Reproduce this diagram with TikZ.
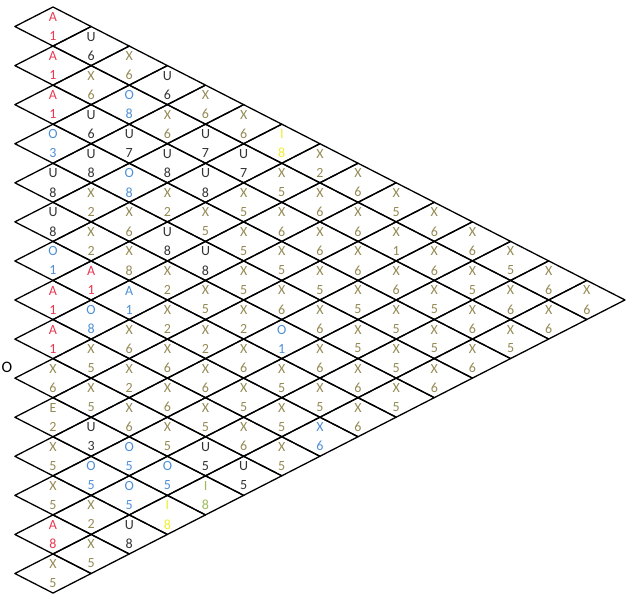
\documentclass[tikz,border=0pt]{standalone}
\usepackage{fontspec}
\setmainfont{Carlito}
\definecolor{cr}{HTML}{E8384F}
\definecolor{cb}{HTML}{4F8FD6}
\definecolor{ck}{HTML}{333333}
\definecolor{co}{HTML}{948A54}
\definecolor{cg}{HTML}{9BBB59}
\definecolor{cy}{HTML}{EEEE30}
\begin{document}
\begin{tikzpicture}[x=1pt,y=-1pt,
  lab/.style={font=\fontsize{14}{14}\selectfont, inner sep=0pt},
  cell/.style={draw=black, line width=1.3pt, line join=round}]
\useasboundingbox (0,0) rectangle (626,597);
\foreach \k/\j/\u/\l/\c in {
 0/0/A/1/r, 0/1/A/1/r, 0/2/A/1/r, 0/3/O/3/b, 0/4/U/8/k, 0/5/U/8/k, 0/6/O/1/b, 0/7/A/1/r, 0/8/A/1/r, 0/9/X/6/o, 0/10/E/2/o, 0/11/X/5/o, 0/12/X/5/o, 0/13/A/8/r, 0/14/X/5/o,
 1/0/U/6/k, 1/1/X/6/o, 1/2/U/6/k, 1/3/U/8/k, 1/4/X/2/o, 1/5/X/2/o, 1/6/A/1/r, 1/7/O/8/b, 1/8/X/5/o, 1/9/X/5/o, 1/10/U/3/k, 1/11/O/5/b, 1/12/X/2/o, 1/13/X/5/o,
 2/0/X/6/o, 2/1/O/8/b, 2/2/U/7/k, 2/3/O/8/b, 2/4/X/6/o, 2/5/X/8/o, 2/6/A/1/b, 2/7/X/6/o, 2/8/X/2/o, 2/9/X/6/o, 2/10/O/5/b, 2/11/O/5/b, 2/12/U/8/k,
 3/0/U/6/k, 3/1/X/6/o, 3/2/U/8/k, 3/3/X/2/o, 3/4/U/8/k, 3/5/X/2/o, 3/6/X/2/o, 3/7/X/6/o, 3/8/X/6/o, 3/9/X/5/o, 3/10/O/5/b, 3/11/I/8/y,
 4/0/X/6/o, 4/1/U/7/k, 4/2/U/8/k, 4/3/X/5/o, 4/4/U/8/k, 4/5/X/5/o, 4/6/X/2/o, 4/7/X/6/o, 4/8/X/5/o, 4/9/U/5/k, 4/10/I/8/g,
 5/0/X/6/o, 5/1/U/7/k, 5/2/X/5/o, 5/3/X/5/o, 5/4/X/5/o, 5/5/X/2/o, 5/6/X/6/o, 5/7/X/5/o, 5/8/X/6/o, 5/9/U/5/k,
 6/0/I/8/y, 6/1/X/5/o, 6/2/X/6/o, 6/3/X/5/o, 6/4/X/6/o, 6/5/O/1/b, 6/6/X/5/o, 6/7/X/5/o, 6/8/X/5/o,
 7/0/X/2/o, 7/1/X/6/o, 7/2/X/6/o, 7/3/X/5/o, 7/4/X/6/o, 7/5/X/6/o, 7/6/X/5/o, 7/7/X/6/b,
 8/0/X/6/o, 8/1/X/6/o, 8/2/X/6/o, 8/3/X/5/o, 8/4/X/5/o, 8/5/X/6/o, 8/6/X/6/o,
 9/0/X/5/o, 9/1/X/1/o, 9/2/X/6/o, 9/3/X/5/o, 9/4/X/5/o, 9/5/X/5/o,
 10/0/X/6/o, 10/1/X/6/o, 10/2/X/5/o, 10/3/X/5/o, 10/4/X/6/o,
 11/0/X/6/o, 11/1/X/5/o, 11/2/X/6/o, 11/3/X/6/o,
 12/0/X/5/o, 12/1/X/6/o, 12/2/X/5/o,
 13/0/X/6/o, 13/1/X/6/o,
 14/0/X/6/o}{
  \pgfmathsetmacro\cx{53+38.13*\k}
  \pgfmathsetmacro\cy{26.53+19.53*\k+39.07*\j}
  \draw[cell] (\cx,\cy-19.53) -- (\cx+38.13,\cy) -- (\cx,\cy+19.53) -- (\cx-38.13,\cy) -- cycle;
  \node[lab, text=c\c] (u-\k-\j) at (\cx,\cy-9.5) {\u};
  \node[lab, text=c\c] (l-\k-\j) at (\cx,\cy+9.5) {\l};
}
\node[font=\fontsize{16}{16}\selectfont, inner sep=0pt, text=black] (stray) at (7,367) {O};
\end{tikzpicture}
\end{document}
